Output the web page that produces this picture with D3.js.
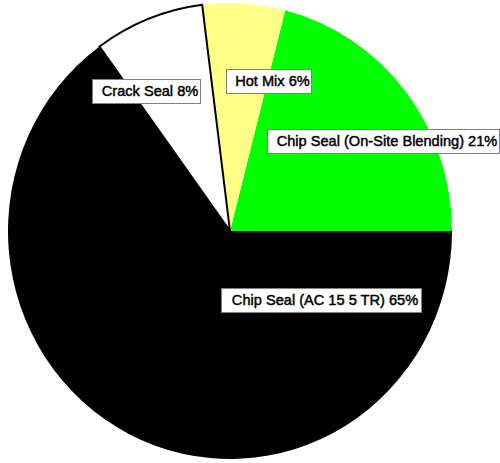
<!DOCTYPE html>
<html><head><meta charset="utf-8">
<script src="https://cdn.jsdelivr.net/npm/d3@7"></script>
<style>html,body{margin:0;padding:0;background:#fff;}</style>
</head><body>
<svg id="chart" width="500" height="463"></svg>
<script>
// Data
const categories = ["Chip Seal (On-Site Blending)", "Hot Mix", "Crack Seal", "Chip Seal (AC 15 5 TR)"];
const values = [21, 6, 8, 65];
const colors = ["#00ff00", "#ffff88", "#ffffff", "#000000"];
// label box layout (left x, top y, width) in pixels
const labelBoxes = [[267, 129, 232], [226, 69, 85], [92, 79, 108], [221, 288, 200]];

const svg = d3.select("#chart");
const cx = 230, cy = 231, rx = 222, ry = 228;
const g = svg.append("g").attr("transform", `translate(${cx},${cy}) scale(1,${ry/rx})`);

// Start at 3 o'clock, counter-clockwise
const pie = d3.pie().sort(null).value(d => d)
  .startAngle(Math.PI/2).endAngle(Math.PI/2 - 2*Math.PI);
const arcs = pie(values);
const arc = d3.arc().innerRadius(0).outerRadius(rx);

g.selectAll("path").data(arcs).join("path")
  .attr("d", arc)
  .attr("fill", (d,i) => colors[i])
  .attr("stroke", (d,i) => i === 2 ? "#000" : "none")
  .attr("stroke-width", 2)
  .attr("vector-effect", "non-scaling-stroke");

g.selectAll("path").filter((d,i) => i === 2).raise();

const lg = svg.append("g");
categories.forEach((c, i) => {
  const [x, y, w] = labelBoxes[i];
  const h = 24;
  lg.append("rect").attr("x", x + 0.5).attr("y", y + 0.5).attr("width", w).attr("height", h)
    .attr("fill", "#fff").attr("stroke", "#808080").attr("stroke-width", 1);
  lg.append("text").attr("x", x + w/2 + 4).attr("y", y + 17)
    .attr("text-anchor", "middle")
    .attr("font-family", "Liberation Sans, Arial, sans-serif")
    .attr("font-size", 14.6)
    .attr("fill", "#000")
    .attr("stroke", "#000").attr("stroke-width", 0.45)
    .text(`${c} ${values[i]}%`);
});
</script>
</body></html>
